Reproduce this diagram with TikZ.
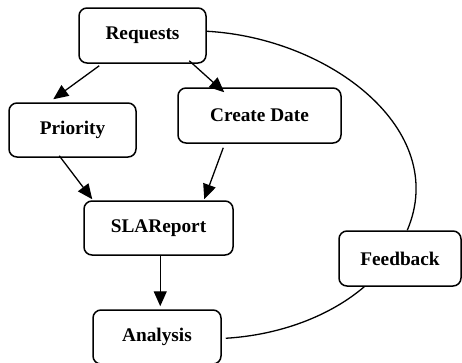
\documentclass[tikz,border=0pt]{standalone}
\usepackage{fontspec}
\setmainfont{Liberation Serif}
\usetikzlibrary{arrows.meta,calc}
\begin{document}
\begin{tikzpicture}[x=1pt,y=-1pt,
  box/.style={draw,line width=1.5pt,rounded corners=8pt,inner sep=0pt,
    font=\fontsize{19.3}{23}\selectfont\bfseries},
  link/.style={line width=1.3pt,-{Triangle[length=15pt,width=13pt]}},
  loopline/.style={line width=1.3pt}]
\useasboundingbox (0,0) rectangle (462,362);
\node[box,minimum width=127pt,minimum height=55pt] (req) at (142.5,35.5) {Requests};
\node[box,minimum width=127pt,minimum height=54pt] (pri) at (72.5,130) {Priority};
\node[box,minimum width=163pt,minimum height=55pt] (cd) at (259.5,115.5) {Create Date};
\node[box,minimum width=149pt,minimum height=54pt] (sla) at (158.5,228) {SLAReport};
\node[box,minimum width=122pt,minimum height=55pt] (fb) at (400,258.5) {Feedback};
\node[box,minimum width=128pt,minimum height=54pt] (ana) at (157,337) {Analysis};
\draw[link] ($(req.south west)+(21,2)$) -- ($(pri.north west)+(45,-3)$);
\draw[link] ($(req.south west)+(111,-3)$) -- ($(cd.north west)+(47,5)$);
\draw[link] ($(pri.south west)+(51,-2)$) -- ($(sla.north west)+(9,-1)$);
\draw[link] ($(cd.south west)+(46,4)$) -- ($(sla.north west)+(121,-1)$);
\draw[link] ($(sla.south west)+(77,-1)$) -- ($(ana.north west)+(68,-3)$);
\draw[loopline] ($(req.north east)+(0,24)$) .. controls (330,38) and (450,130) .. ($(fb.north west)+(69,0)$);
\draw[loopline] ($(fb.south west)+(26,0)$) .. controls (330,316) and (280,335) .. ($(ana.north east)+(4,29)$);
\end{tikzpicture}
\end{document}
